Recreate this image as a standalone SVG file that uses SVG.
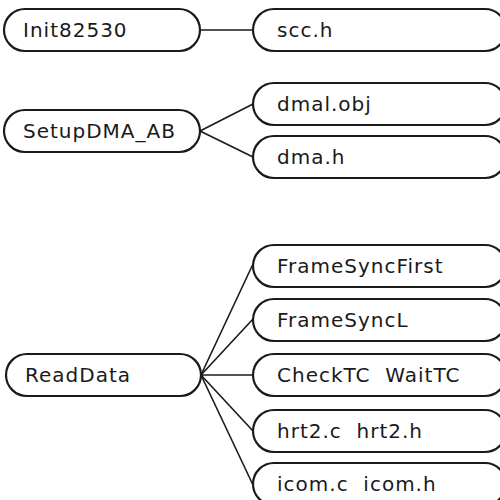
<svg xmlns="http://www.w3.org/2000/svg" width="500" height="500" viewBox="0 0 500 500">
  <style>
    .box { fill: #fff; stroke: #1a1a1a; stroke-width: 2.2; }
    .lbl { font-family: "DejaVu Sans", "Liberation Sans", sans-serif; font-size: 20px; letter-spacing: 1px; fill: #1a1a1a; }
    .edge { stroke: #1a1a1a; stroke-width: 1.6; fill: none; }
  </style>
  <rect width="500" height="500" fill="#fff"/>

  <!-- connectors -->
  <g id="edges">
    <line class="edge" x1="200" y1="30" x2="253" y2="30"/>
    <line class="edge" x1="200" y1="131" x2="253" y2="104"/>
    <line class="edge" x1="200" y1="131" x2="253" y2="157"/>
    <line class="edge" x1="201" y1="375" x2="253" y2="264"/>
    <line class="edge" x1="201" y1="375" x2="253" y2="319"/>
    <line class="edge" x1="201" y1="375" x2="253" y2="375"/>
    <line class="edge" x1="201" y1="375" x2="253" y2="431"/>
    <line class="edge" x1="201" y1="375" x2="253" y2="485"/>
  </g>

  <!-- callers -->
  <g id="Init82530">
    <rect class="box" x="4" y="9" width="196" height="42" rx="21"/>
    <text class="lbl" x="23" y="37">Init82530</text>
  </g>
  <g id="SetupDMA_AB">
    <rect class="box" x="4" y="110" width="196" height="42" rx="21"/>
    <text class="lbl" x="23" y="138">SetupDMA_AB</text>
  </g>
  <g id="ReadData">
    <rect class="box" x="6" y="354" width="195" height="42" rx="21"/>
    <text class="lbl" x="25" y="382">ReadData</text>
  </g>

  <!-- dependencies -->
  <g id="scc_h">
    <rect class="box" x="253" y="9" width="253" height="42" rx="21"/>
    <text class="lbl" x="277" y="37">scc.h</text>
  </g>
  <g id="dmal_obj">
    <rect class="box" x="253" y="83" width="253" height="42" rx="21"/>
    <text class="lbl" x="277" y="111">dmal.obj</text>
  </g>
  <g id="dma_h">
    <rect class="box" x="253" y="136" width="253" height="42" rx="21"/>
    <text class="lbl" x="277" y="164">dma.h</text>
  </g>
  <g id="FrameSyncFirst">
    <rect class="box" x="253" y="245" width="253" height="42" rx="21"/>
    <text class="lbl" x="277" y="273">FrameSyncFirst</text>
  </g>
  <g id="FrameSyncL">
    <rect class="box" x="253" y="299" width="253" height="42" rx="21"/>
    <text class="lbl" x="277" y="327">FrameSyncL</text>
  </g>
  <g id="CheckTC_WaitTC">
    <rect class="box" x="253" y="354" width="253" height="42" rx="21"/>
    <text class="lbl" x="277" y="382" xml:space="preserve">CheckTC  WaitTC</text>
  </g>
  <g id="hrt2">
    <rect class="box" x="253" y="410" width="253" height="42" rx="21"/>
    <text class="lbl" x="277" y="438" xml:space="preserve">hrt2.c  hrt2.h</text>
  </g>
  <g id="icom">
    <rect class="box" x="253" y="463" width="253" height="42" rx="21"/>
    <text class="lbl" x="277" y="491" xml:space="preserve">icom.c  icom.h</text>
  </g>
</svg>
